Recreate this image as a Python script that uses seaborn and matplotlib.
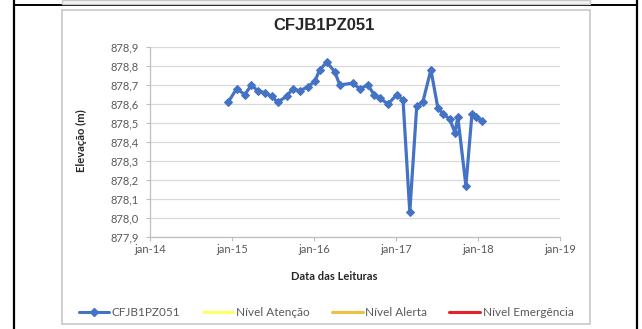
import pandas as pd
import numpy as np
import matplotlib
matplotlib.use("Agg")
import matplotlib.pyplot as plt
import matplotlib.dates as mdates
import seaborn as sns
from matplotlib.ticker import FuncFormatter, MultipleLocator
from matplotlib.lines import Line2D
from matplotlib.patches import Rectangle

# readings of the piezometer
dates = ["2014-12-15", "2015-01-22", "2015-02-27", "2015-03-29", "2015-04-25",
         "2015-05-26", "2015-06-27", "2015-07-23", "2015-09-02", "2015-09-28",
         "2015-10-30", "2015-12-05", "2016-01-05", "2016-01-27", "2016-02-27",
         "2016-04-03", "2016-04-25", "2016-06-22", "2016-07-23", "2016-08-28",
         "2016-09-25", "2016-10-21", "2016-11-26", "2017-01-05", "2017-02-01",
         "2017-03-03", "2017-04-03", "2017-04-30", "2017-06-05", "2017-07-06",
         "2017-07-28", "2017-08-28", "2017-09-20", "2017-10-03", "2017-11-08",
         "2017-12-05", "2017-12-25", "2018-01-18"]
elevation = [878.61, 878.68, 878.65, 878.70, 878.67,
             878.66, 878.64, 878.61, 878.64, 878.68,
             878.67, 878.69, 878.72, 878.78, 878.82,
             878.77, 878.70, 878.71, 878.68, 878.70,
             878.65, 878.63, 878.60, 878.65, 878.62,
             878.03, 878.59, 878.61, 878.78, 878.58,
             878.55, 878.52, 878.45, 878.53, 878.17,
             878.55, 878.53, 878.51]

series_name = "CFJB1PZ051"
level_names = ["Nível Atenção", "Nível Alerta", "Nível Emergência"]
level_colors = ["#FFFF66", "#F0C040", "#E8202A"]
year_ticks = ["2014-01-01", "2015-01-01", "2016-01-01", "2017-01-01", "2018-01-01", "2019-01-01"]

df = pd.DataFrame({"data": pd.to_datetime(dates), "elev": elevation})

sns.set_style("white")
plt.rcParams["font.family"] = ["Lato", "DejaVu Sans"]

W, H = 642, 329
fig = plt.figure(figsize=(W / 100, H / 100), dpi=100)

# pixel -> figure fraction helpers
def fx(px):
    return px / W

def fy(py):
    return 1 - py / H

# table cell borders and chart box (kept behind the axes)
fig.add_artist(Line2D([fx(14), fx(14)], [0, 1], color="black", lw=1.6, zorder=-2))
fig.add_artist(Line2D([fx(637), fx(637)], [0, 1], color="black", lw=1.6, zorder=-2))
fig.add_artist(Line2D([fx(14), fx(637)], [fy(5), fy(5)], color="black", lw=1.4, zorder=-2))
fig.add_artist(Rectangle((fx(62), fy(4)), fx(528), fy(0) - fy(4), facecolor="#f4f4f4",
                         edgecolor="#c8c8c8", lw=1.0, zorder=-1))
fig.add_artist(Rectangle((fx(62), fy(324)), fx(528), fy(10) - fy(324), facecolor="white",
                         edgecolor="#c8c8c8", lw=1.2, zorder=-1))

ax = fig.add_axes([fx(150), fy(237), fx(410), fy(47) - fy(237)])
ax.set_zorder(3)
ax.set_facecolor("none")

sns.lineplot(data=df, x="data", y="elev", ax=ax, color="#4472C4", lw=2.3,
             marker="D", markersize=4.5, markeredgecolor="#4472C4", label=series_name,
             legend=False)

ax.set_xlim(pd.Timestamp(year_ticks[0]), pd.Timestamp(year_ticks[-1]))
ax.set_ylim(877.9, 878.9)
ax.set_xticks(pd.to_datetime(year_ticks))
ax.xaxis.set_major_formatter(FuncFormatter(lambda x, pos: "jan-" + mdates.num2date(x).strftime("%y")))
ax.yaxis.set_major_locator(MultipleLocator(0.1))
ax.yaxis.set_major_formatter(FuncFormatter(lambda v, pos: "{:.1f}".format(v).replace(".", ",")))

ax.grid(axis="y", color="#d9d9d9", lw=0.9)
ax.grid(axis="x", visible=False)
for s in ["top", "right"]:
    ax.spines[s].set_visible(False)
for s in ["left", "bottom"]:
    ax.spines[s].set_color("#bfbfbf")
    ax.spines[s].set_linewidth(0.9)
ax.tick_params(axis="both", colors="#595959", labelsize=8, length=3, width=0.8,
               direction="out", left=True, bottom=True)
ax.tick_params(axis="x", pad=2)
ax.tick_params(axis="y", pad=5)
ax.tick_params(axis="both", color="#bfbfbf")
ax.set_xlabel("")
ax.set_ylabel("")

# titles placed like the Excel chart (centred on the chart box)
fig.text(fx(324), fy(26), series_name, ha="center", va="center", fontsize=12,
         fontweight="bold", color="#262626", family=["Liberation Sans", "DejaVu Sans"])
fig.text(fx(334), fy(277), "Data das Leituras", ha="center", va="center", fontsize=8,
         fontweight="bold", color="#262626")
fig.text(fx(81), fy(141), "Elevação (m)", ha="center", va="center", fontsize=8,
         fontweight="bold", color="#262626", rotation=90)

# legend: series plus the (empty) alarm levels
handles = [Line2D([], [], color="#4472C4", lw=2.2, marker="D", markersize=4)]
for name, c in zip(level_names, level_colors):
    handles.append(Line2D([], [], color=c, lw=2.2))
leg = fig.legend(handles, [series_name] + level_names, loc="center",
                 bbox_to_anchor=(fx(326), fy(313)), ncol=4, frameon=False, fontsize=8.5,
                 handlelength=2.6, handletextpad=0.2, columnspacing=1.9, labelcolor="#595959")
leg.set_zorder(4)

fig.savefig("out.png", dpi=100)
